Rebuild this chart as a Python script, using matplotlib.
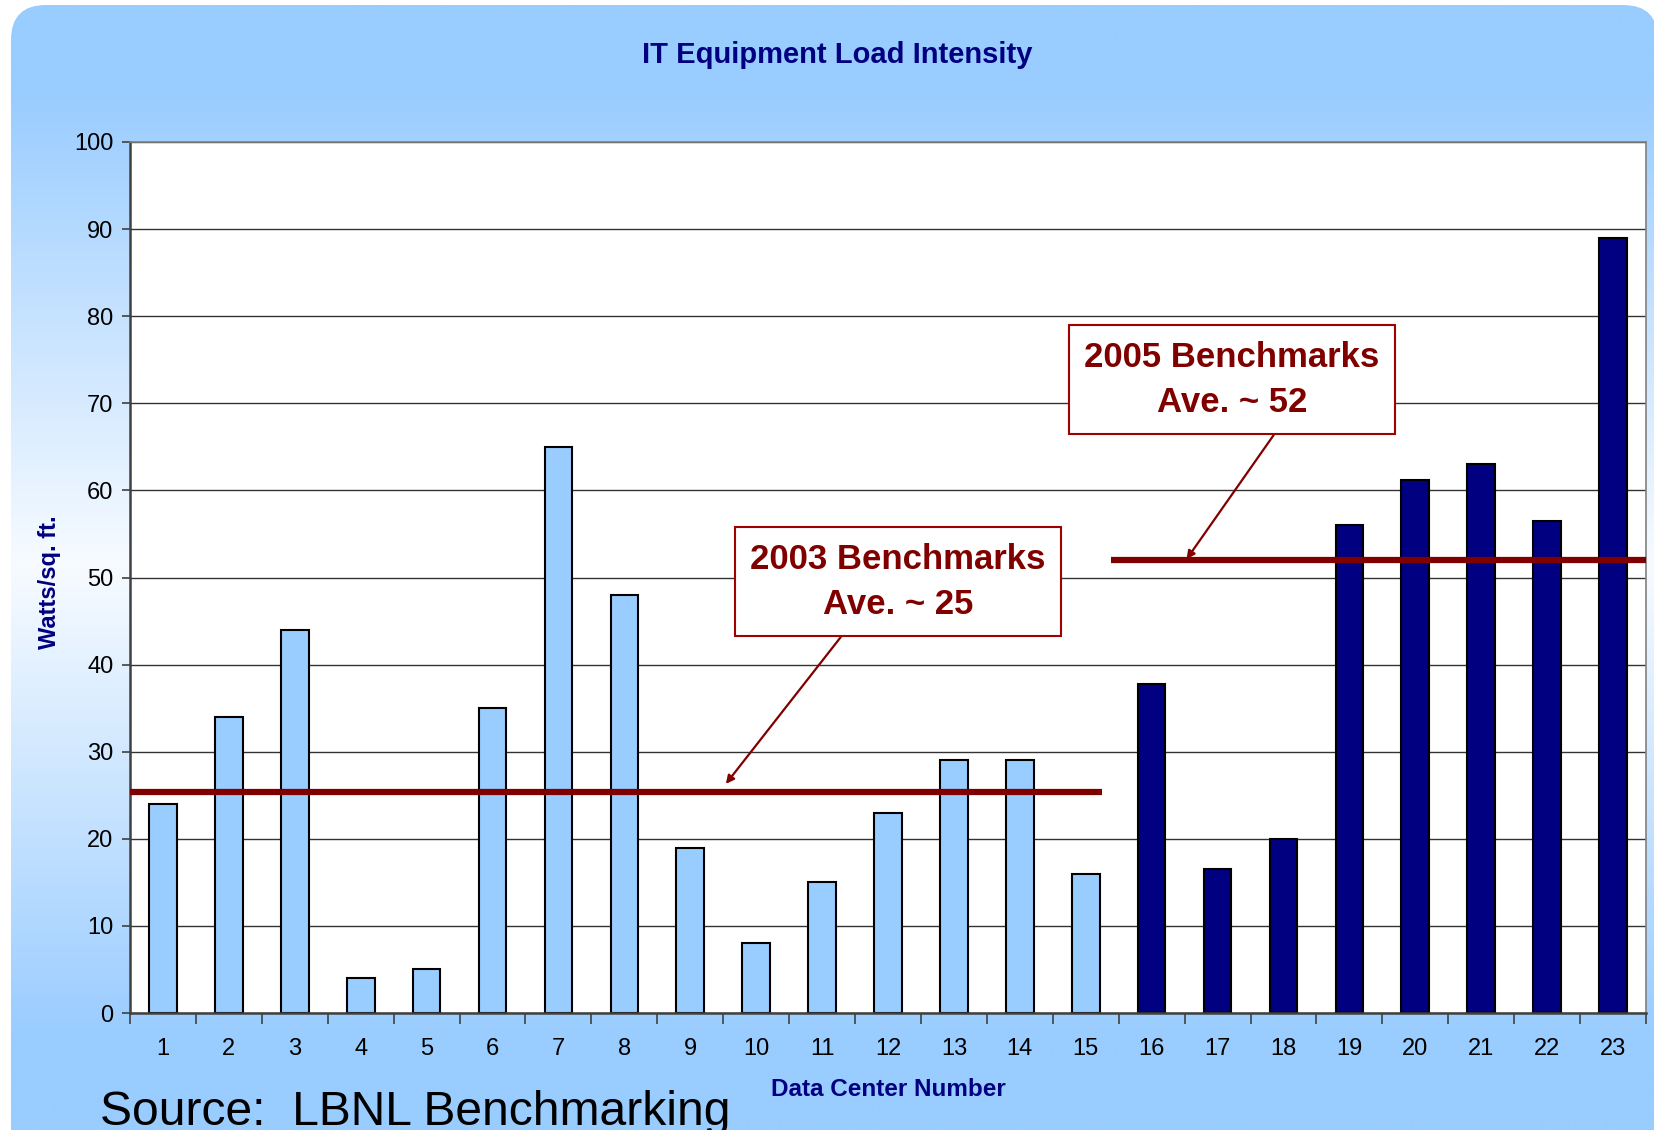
import numpy as np
import matplotlib
matplotlib.use('Agg')
import matplotlib.pyplot as plt
from matplotlib.patches import FancyBboxPatch

plt.rcParams['font.family'] = ['Liberation Sans', 'DejaVu Sans']

# data
centers = [str(i) for i in range(1, 24)]
values_2003 = [24, 34, 44, 4, 5, 35, 65, 48, 19, 8, 15, 23, 29, 29, 16]
values_2005 = [37.8, 16.5, 20, 56, 61.2, 63, 56.5, 89]
bench_labels = ['2003 Benchmarks\nAve. ~ 25', '2005 Benchmarks\nAve. ~ 52']
bench_levels = [25.4, 52.0]
bench_from = [-0.5, 14.38]
bench_to = [14.25, 22.5]

LIGHT = '#99CCFF'
NAVY = '#000080'
RED = '#800000'

fig = plt.figure(figsize=(16.54, 11.30), dpi=100, facecolor='white')

# rounded gradient background
bg = fig.add_axes([0, 0, 1, 1], zorder=-10)
bg.set_xlim(0, 1654)
bg.set_ylim(1130, 0)
bg.axis('off')
t = np.linspace(0, 1, 400)[:, None]
f = np.clip(1 - np.abs(t - 0.5) / 0.42, 0, 1)
blue = np.array([0.60, 0.80, 1.0])
white = np.array([0.97, 0.985, 1.0])
grad = blue[None, None, :] * (1 - f[..., None]) + white[None, None, :] * f[..., None]
grad = np.repeat(grad, 2, axis=1)
im = bg.imshow(grad, extent=[0, 1654, 1130, 0], aspect='auto', interpolation='bilinear')
clip = FancyBboxPatch((11, 5), 1647, 1160, boxstyle='round,pad=0,rounding_size=35',
                      transform=bg.transData, fc='none', ec='none')
bg.add_patch(clip)
im.set_clip_path(clip)

ax = fig.add_axes([130 / 1654, 117 / 1130, 1516 / 1654, 871 / 1130])
ax.set_facecolor('white')

x1 = np.arange(len(values_2003))
x2 = np.arange(len(values_2003), len(values_2003) + len(values_2005))
ax.bar(x1, values_2003, width=0.42, color=LIGHT, edgecolor='black', linewidth=1.5, zorder=2)
ax.bar(x2, values_2005, width=0.42, color=NAVY, edgecolor='black', linewidth=1.5, zorder=2)

for lvl, a, b in zip(bench_levels, bench_from, bench_to):
    ax.plot([a, b], [lvl, lvl], color=RED, lw=4.5, solid_capstyle='butt', zorder=3)

ax.set_xlim(-0.5, len(centers) - 0.5)
ax.set_ylim(0, 100)
ax.set_yticks(np.arange(0, 101, 10))
ax.yaxis.grid(True, color='#333333', lw=1)
ax.set_axisbelow(True)

ax.set_xticks(np.arange(-0.5, len(centers), 1.0))
ax.set_xticklabels([])
ax.set_xticks(np.arange(len(centers)), minor=True)
ax.set_xticklabels(centers, minor=True)
ax.tick_params(axis='x', which='major', direction='out', length=8, color='#404040', width=1.2)
ax.tick_params(axis='x', which='minor', length=0, pad=18, labelsize=17)
ax.tick_params(axis='y', direction='out', length=6, color='#404040', width=1.2, pad=6, labelsize=17)

for s in ['left', 'bottom']:
    ax.spines[s].set_color('#404040')
    ax.spines[s].set_linewidth(1.8)
for s in ['top', 'right']:
    ax.spines[s].set_color('#808080')
    ax.spines[s].set_linewidth(1.2)

# callout boxes
ax.annotate(bench_labels[0], xy=(8.54, 26.3), xytext=(11.15, 49.5), textcoords='data',
            ha='center', va='center', fontsize=25, fontweight='bold', color=RED,
            linespacing=1.45,
            bbox=dict(boxstyle='square,pad=0.45', fc='white', ec='#A00000', lw=1.5),
            arrowprops=dict(arrowstyle='-|>', color=RED, lw=1.6, relpos=(0.35, 0),
                            shrinkA=0, shrinkB=0, mutation_scale=12),
            zorder=5)
ax.annotate(bench_labels[1], xy=(15.53, 52.1), xytext=(16.22, 72.7), textcoords='data',
            ha='center', va='center', fontsize=25, fontweight='bold', color=RED,
            linespacing=1.45,
            bbox=dict(boxstyle='square,pad=0.45', fc='white', ec='#A00000', lw=1.5),
            arrowprops=dict(arrowstyle='-|>', color=RED, lw=1.6, relpos=(0.68, 0),
                            shrinkA=0, shrinkB=0, mutation_scale=12),
            zorder=5)

fig.text(0.506, 0.951, 'IT Equipment Load Intensity', ha='center', va='center',
         fontsize=21, fontweight='bold', color=NAVY)
fig.text(0.030, 0.485, 'Watts/sq. ft.', ha='center', va='center', rotation=90,
         fontsize=17, fontweight='bold', color=NAVY)
fig.text(0.537, 0.036, 'Data Center Number', ha='center', va='center',
         fontsize=17.5, fontweight='bold', color=NAVY)
fig.text(0.0605, 0.004, 'Source:  LBNL Benchmarking', ha='left', va='baseline',
         fontsize=34.6, color='black')

fig.savefig('out.png', dpi=100)
